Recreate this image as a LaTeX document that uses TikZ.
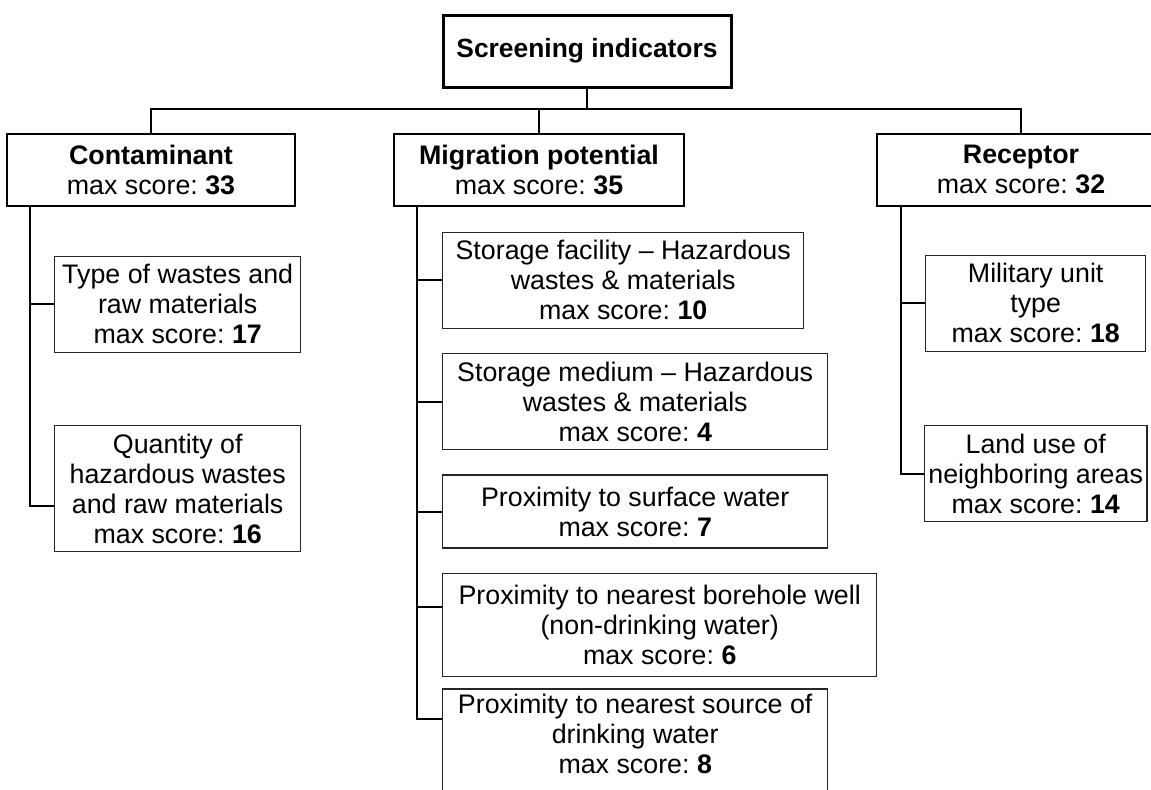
\documentclass[tikz,border=0pt]{standalone}
\usepackage{fontspec}
\setmainfont{Liberation Sans}
\usetikzlibrary{positioning,calc}
\frenchspacing

\begin{document}
\begin{tikzpicture}[
    font=\fontsize{13.4}{15}\selectfont,
    rootbox/.style={rectangle, draw, line width=1.5pt, minimum width=144pt, minimum height=36pt, inner sep=2pt, font=\fontsize{13.2}{15}\selectfont\bfseries},
    group/.style={rectangle, draw, line width=1pt, minimum width=144pt, minimum height=36pt, inner sep=2pt, align=center},
    item/.style={rectangle, draw=black!85, line width=0.7pt, minimum width=#1, inner sep=2pt, align=center},
    link/.style={line width=1pt},
]
\clip (0,0) rectangle (575.5pt,-394.5pt);

% Root
\node[rootbox] (root) at (293.5pt,-25.5pt) {Screening indicators};

% Indicator groups
\node[group, below=22pt of root, xshift=-24pt, minimum width=145pt] (mig) {\textbf{Migration potential}\\max score: \textbf{35}};
\node[group, left=48.5pt of mig] (cont) {\textbf{Contaminant}\\max score: \textbf{33}};
\node[group, right=95.5pt of mig] (rec) {\textbf{Receptor}\\max score: \textbf{32}};

% Contaminant items
\node[item=123pt, minimum height=48pt, below right=24.5pt and 24pt of cont.south west] (type) {Type of wastes and\\raw materials\\max score: \textbf{17}};
\node[item=123pt, minimum height=63pt, below=36pt of type] (quant) {Quantity of\\hazardous wastes\\and raw materials\\max score: \textbf{16}};

% Migration items
\node[item=180.5pt, minimum height=48pt, below right=12.5pt and 24.5pt of mig.south west] (facility) {Storage facility -- Hazardous\\wastes \& materials\\max score: \textbf{10}};
\node[item=192.5pt, minimum height=48pt, below=12pt of facility.south west, anchor=north west] (medium) {Storage medium -- Hazardous\\wastes \& materials\\max score: \textbf{4}};
\node[item=192.5pt, minimum height=36.5pt, below=12pt of medium] (surface) {Proximity to surface water\\max score: \textbf{7}};
\node[item=217pt, minimum height=51.5pt, below=12pt of surface.south west, anchor=north west] (borehole) {Proximity to nearest borehole well\\(non-drinking water)\\max score: \textbf{6}};
\node[item=192.5pt, minimum height=64pt, below=5.5pt of borehole.south west, anchor=north west] (drinking) {Proximity to nearest source of\\drinking water\\max score: \textbf{8}\\\strut};

% Receptor items
\node[item=110pt, minimum height=48pt, below right=24pt and 24.5pt of rec.south west] (military) {Military unit\\type\\max score: \textbf{18}};
\node[item=110pt, minimum height=48pt, below=36.5pt of military] (landuse) {Land use of\\neighboring areas\\max score: \textbf{14}};

% Top level lines
\coordinate[below=10pt of root] (bus);
\draw[line width=0.7pt] (root) -- (bus);
\draw[link] (cont.north) |- (bus) -| (rec.north);
\draw[link] (mig.north) |- (bus);

% Trunks
\coordinate[right=12pt of cont.south west] (ctrunk);
\draw[link] (ctrunk) |- (type.west);
\draw[link] (ctrunk) |- ([yshift=-8.5pt]quant.west);

\coordinate[right=12pt of mig.south west] (mtrunk);
\draw[link] (mtrunk) |- (facility.west);
\draw[link] (mtrunk) |- (medium.west);
\draw[link] (mtrunk) |- (surface.west);
\draw[link] (mtrunk) |- ([yshift=8.75pt]borehole.west);
\draw[link] (mtrunk) |- ([yshift=17pt]drinking.west);

\coordinate[right=12.5pt of rec.south west] (rtrunk);
\draw[link] (rtrunk) |- (military.west);
\draw[link] (rtrunk) |- (landuse.west);

\end{tikzpicture}
\end{document}
